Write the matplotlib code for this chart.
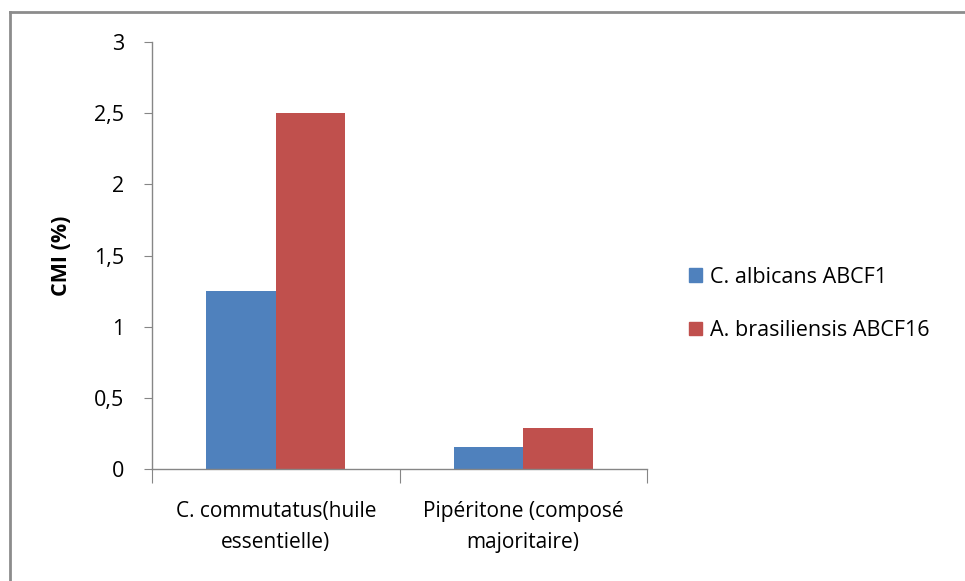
import matplotlib
matplotlib.use('Agg')
import matplotlib.pyplot as plt
from matplotlib.patches import Patch
from matplotlib.lines import Line2D

categories = ['C. commutatus(huile\nessentielle)', 'Pipéritone (composé\nmajoritaire)']
series = ['C. albicans ABCF1', 'A. brasiliensis ABCF16']
albicans = [1.25, 0.155]
brasiliensis = [2.5, 0.29]
yticks = [0, 0.5, 1, 1.5, 2, 2.5, 3]
ytick_labels = ['0', '0,5', '1', '1,5', '2', '2,5', '3']

BLUE, RED, AX = '#4f81bd', '#c0504d', '#868686'
plt.rcParams['font.family'] = ['Open Sans', 'DejaVu Sans']

fig = plt.figure(figsize=(9.65, 5.81), dpi=100)
ax = fig.add_axes([152/965, 1-469/581, 495/965, 427/581])

x = range(len(categories))
w = 0.28
ax.bar([i - w/2 for i in x], albicans, w, color=BLUE, label=series[0])
ax.bar([i + w/2 for i in x], brasiliensis, w, color=RED, label=series[1])

ax.set_xlim(-0.5, 1.5)
ax.set_ylim(0, 3)
ax.set_yticks(yticks)
ax.set_yticklabels(ytick_labels, fontsize=15.5)
ax.set_xticks([-0.5, 0.5, 1.5])
ax.set_xticklabels([])
ax.set_xticks(list(x), minor=True)
ax.set_xticklabels(categories, minor=True, fontsize=15, linespacing=1.65)
ax.tick_params(axis='x', which='minor', length=0, pad=23)
ax.tick_params(axis='x', which='major', length=10, color=AX)
ax.tick_params(axis='y', length=6, color=AX, pad=14)
for s in ['top', 'right']:
    ax.spines[s].set_visible(False)
for s in ['left', 'bottom']:
    ax.spines[s].set_color(AX)
    ax.spines[s].set_linewidth(1.0)
ax.set_ylabel('CMI (%)', fontsize=15.5, fontweight='bold')
ax.yaxis.set_label_coords(-0.162, 0.5)

handles = [Patch(color=BLUE), Patch(color=RED)]
fig.legend(handles, series, loc='center left', bbox_to_anchor=(670/965, 1-304/581),
           frameon=False, fontsize=15.5, handlelength=0.6, handleheight=0.6,
           handletextpad=0.35, labelspacing=1.5)

# outer chart border (top and left visible)
fig.add_artist(Line2D([10/965, 10/965], [0, 1-12/581], color='#8c8c8c', lw=2, transform=fig.transFigure))
fig.add_artist(Line2D([10/965, 1], [1-12/581, 1-12/581], color='#8c8c8c', lw=2, transform=fig.transFigure))

fig.savefig('out.png', dpi=100)
